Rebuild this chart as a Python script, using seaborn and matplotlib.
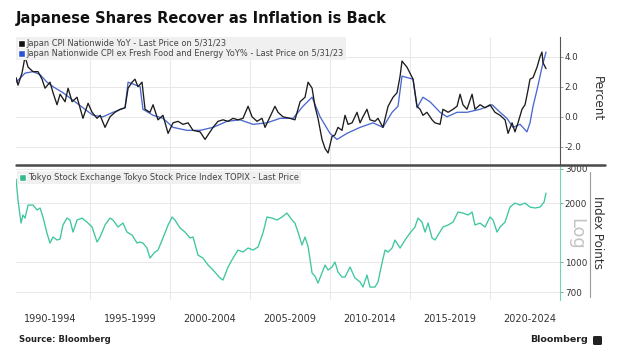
import numpy as np
import pandas as pd
import matplotlib
matplotlib.use("Agg")
import matplotlib.pyplot as plt
import seaborn as sns
from matplotlib.lines import Line2D
from matplotlib.patches import Patch, FancyBboxPatch
import matplotlib.ticker as mticker

# ---------------- data ----------------
cpi_dates = [1990.38, 1990.50, 1990.75, 1990.94, 1991.13, 1991.44, 1991.75, 1992.00, 1992.19, 1992.50,
             1992.69, 1992.94, 1993.13, 1993.44, 1993.63, 1993.88, 1994.19, 1994.56, 1994.88, 1995.13,
             1995.44, 1995.63, 1995.94, 1996.25, 1996.56, 1996.88, 1997.19, 1997.38, 1997.63, 1997.81,
             1998.00, 1998.25, 1998.44, 1998.75, 1998.94, 1999.25, 1999.56, 1999.88, 2000.19, 2000.50,
             2000.81, 2001.13, 2001.44, 2001.88, 2002.19, 2002.38, 2002.69, 2003.00, 2003.31, 2003.63,
             2003.94, 2004.25, 2004.56, 2004.88, 2005.13, 2005.44, 2005.75, 2005.94, 2006.25, 2006.56,
             2006.75, 2007.06, 2007.50, 2007.81, 2008.13, 2008.44, 2008.63, 2008.88, 2009.06, 2009.25,
             2009.50, 2009.69, 2009.88, 2010.13, 2010.31, 2010.50, 2010.75, 2010.94, 2011.13, 2011.38,
             2011.69, 2011.88, 2012.06, 2012.31, 2012.50, 2012.81, 2013.00, 2013.31, 2013.63, 2013.94,
             2014.19, 2014.38, 2014.50, 2014.81, 2015.00, 2015.19, 2015.44, 2015.63, 2015.81, 2016.06,
             2016.38, 2016.56, 2016.88, 2017.06, 2017.38, 2017.69, 2017.94, 2018.13, 2018.31, 2018.56,
             2018.88, 2019.06, 2019.38, 2019.69, 2020.00, 2020.31, 2020.63, 2020.94, 2021.13, 2021.38,
             2021.56, 2021.75, 2022.00, 2022.19, 2022.38, 2022.50, 2022.69, 2022.94, 2023.13, 2023.25,
             2023.31, 2023.50]
cpi_values = [2.6, 2.1, 2.9, 4.0, 3.3, 3.0, 3.0, 2.5, 1.9, 2.3,
              1.6, 0.8, 1.5, 1.0, 1.9, 1.0, 1.3, -0.1, 0.9, 0.3,
              -0.1, 0.1, -0.7, 0.0, 0.3, 0.5, 0.6, 1.9, 2.3, 2.5,
              2.0, 2.3, 0.5, 0.3, 0.8, -0.2, 0.1, -1.1, -0.4, -0.3,
              -0.5, -0.4, -0.9, -1.0, -1.5, -1.2, -0.7, -0.3, -0.2, -0.3,
              -0.1, -0.2, -0.1, 0.7, 0.0, -0.3, -0.1, -0.7, 0.0, 0.7,
              0.3, 0.0, -0.1, -0.2, 1.0, 1.3, 2.3, 1.9, 0.7, -0.1,
              -1.5, -2.1, -2.4, -1.3, -1.2, -0.7, -0.9, 0.1, -0.5, -0.4,
              0.3, -0.4, 0.0, 0.5, -0.2, -0.3, -0.1, -0.7, 0.7, 1.3,
              1.6, 2.7, 3.7, 3.3, 2.9, 2.5, 0.7, 0.5, 0.1, 0.3,
              -0.2, -0.4, -0.5, 0.5, 0.3, 0.5, 0.7, 1.5, 0.8, 0.5,
              1.5, 0.5, 0.8, 0.6, 0.8, 0.3, 0.1, -0.2, -1.1, -0.4,
              -1.0, -0.4, 0.5, 0.8, 1.8, 2.5, 2.6, 3.3, 4.0, 4.3,
              3.6, 3.2]

core_dates = [1990.38, 1990.94, 1991.44, 1991.88, 1992.31, 1992.69, 1993.31, 1993.94, 1994.56, 1995.19,
              1995.81, 1996.44, 1997.19, 1997.38, 1998.13, 1998.31, 1998.94, 1999.56, 2000.19, 2001.06,
              2001.88, 2002.69, 2003.56, 2004.38, 2005.19, 2006.06, 2006.88, 2007.69, 2008.31, 2008.88,
              2009.38, 2010.00, 2010.44, 2011.06, 2011.88, 2012.69, 2013.31, 2013.88, 2014.25, 2014.50,
              2015.19, 2015.44, 2015.81, 2016.25, 2016.88, 2017.31, 2017.94, 2018.56, 2019.38, 2020.13,
              2020.63, 2021.06, 2021.44, 2021.88, 2022.31, 2022.50, 2022.69, 2022.94, 2023.25, 2023.50]
core_values = [2.3, 2.9, 3.0, 2.8, 2.3, 2.0, 1.6, 1.1, 0.6, 0.1,
               0.0, 0.3, 0.6, 2.3, 2.0, 0.5, 0.1, -0.1, -0.7, -0.9,
               -0.9, -0.7, -0.3, -0.2, -0.5, -0.4, -0.1, -0.1, 0.7, 1.3,
               0.0, -1.1, -1.5, -1.1, -0.7, -0.4, -0.7, 0.3, 0.7, 2.7,
               2.5, 0.6, 1.3, 1.0, 0.3, 0.0, 0.3, 0.3, 0.5, 0.8,
               0.3, -0.1, -0.7, -0.5, -1.0, -0.4, 0.7, 1.8, 3.3, 4.3]

topix_dates = [1990.38, 1990.50, 1990.69, 1990.81, 1990.94, 1991.13, 1991.44, 1991.69, 1991.88, 1992.06,
               1992.31, 1992.50, 1992.69, 1992.94, 1993.13, 1993.31, 1993.56, 1993.75, 1993.94, 1994.19,
               1994.50, 1994.81, 1995.13, 1995.44, 1995.63, 1995.94, 1996.25, 1996.44, 1996.75, 1997.06,
               1997.31, 1997.63, 1997.94, 1998.13, 1998.31, 1998.56, 1998.75, 1999.06, 1999.25, 1999.56,
               1999.88, 2000.13, 2000.31, 2000.63, 2000.94, 2001.25, 2001.44, 2001.75, 2002.06, 2002.38,
               2002.69, 2003.13, 2003.31, 2003.63, 2003.94, 2004.25, 2004.56, 2004.88, 2005.19, 2005.50,
               2005.81, 2006.06, 2006.38, 2006.69, 2007.00, 2007.31, 2007.63, 2007.81, 2008.00, 2008.25,
               2008.44, 2008.63, 2008.88, 2009.06, 2009.25, 2009.50, 2009.69, 2009.88, 2010.13, 2010.31,
               2010.50, 2010.75, 2010.94, 2011.25, 2011.56, 2011.88, 2012.06, 2012.31, 2012.50, 2012.81,
               2013.00, 2013.25, 2013.44, 2013.63, 2013.88, 2014.06, 2014.38, 2014.69, 2015.00, 2015.31,
               2015.50, 2015.75, 2015.94, 2016.13, 2016.38, 2016.56, 2016.75, 2017.06, 2017.38, 2017.69,
               2018.00, 2018.31, 2018.63, 2018.88, 2019.06, 2019.38, 2019.69, 2020.00, 2020.19, 2020.44,
               2020.63, 2020.94, 2021.25, 2021.56, 2021.88, 2022.19, 2022.50, 2022.81, 2023.13, 2023.38,
               2023.50]
topix_values = [2650, 2072, 1581, 1738, 1676, 1953, 1953, 1842, 1887, 1697,
                1406, 1250, 1342, 1295, 1310, 1545, 1676, 1638, 1422, 1638,
                1676, 1600, 1509, 1265, 1342, 1545, 1676, 1638, 1509, 1581,
                1422, 1373, 1250, 1265, 1250, 1179, 1048, 1125, 1151, 1326,
                1545, 1697, 1638, 1490, 1422, 1326, 1342, 1085, 1048, 965,
                910, 829, 809, 943, 1048, 1151, 1125, 1179, 1151, 1193,
                1406, 1697, 1676, 1638, 1697, 1778, 1638, 1581, 1422, 1221,
                1342, 1200, 879, 848, 781, 879, 965, 910, 943, 1000,
                889, 838, 838, 943, 829, 791, 745, 858, 745, 745,
                791, 988, 1151, 1125, 1179, 1295, 1179, 1295, 1406, 1509,
                1676, 1600, 1422, 1581, 1326, 1295, 1373, 1509, 1545, 1600,
                1799, 1778, 1738, 1799, 1545, 1581, 1509, 1697, 1638, 1422,
                1509, 1600, 1908, 2000, 1953, 2000, 1908, 1887, 1908, 2024,
                2249]

period_labels = ["1990-1994", "1995-1999", "2000-2004", "2005-2009",
                 "2010-2014", "2015-2019", "2020-2024"]
period_centers = [1992.5, 1997.5, 2002.5, 2007.5, 2012.5, 2017.5, 2022.5]
grid_years = [1995, 2000, 2005, 2010, 2015, 2020]
cpi_ticks = [-2.0, 0.0, 2.0, 4.0]
topix_ticks = [700, 1000, 2000, 3000]

title = "Japanese Shares Recover as Inflation is Back"
leg_cpi = "Japan CPI Nationwide YoY - Last Price on 5/31/23"
leg_core = "Japan Nationwide CPI ex Fresh Food and Energy YoY% - Last Price on 5/31/23"
leg_topix = "Tokyo Stock Exchange Tokyo Stock Price Index TOPIX - Last Price"

# ---------------- styling ----------------
sns.set_style("white")
plt.rcParams['font.family'] = ['DejaVu Sans']
plt.rcParams['axes.unicode_minus'] = False

W, H = 625, 352
fig = plt.figure(figsize=(W / 100, H / 100), dpi=100)
fig.patch.set_facecolor("white")
renderer = fig.canvas.get_renderer()


def fx(px):
    return px / W


def fy(py):
    return 1 - py / H


def fit_size(s, target_px, **kw):
    t = fig.text(0, 0, s, fontsize=10, **kw)
    w = t.get_window_extent(renderer).width
    t.remove()
    return 10 * target_px / w


BLACK = "#1c1c1c"
BLUE = "#4a68cf"
TEAL = "#3ec6a0"
GRID = "#e8e8e8"
TXT = "#333333"

ax1 = fig.add_axes([fx(16), fy(165), fx(560) - fx(16), fy(37) - fy(165)])
ax2 = fig.add_axes([fx(16), fy(300), fx(560) - fx(16), fy(167) - fy(300)], sharex=ax1)

df_cpi = pd.DataFrame({"date": cpi_dates, "value": cpi_values})
df_core = pd.DataFrame({"date": core_dates, "value": core_values})
df_topix = pd.DataFrame({"date": topix_dates, "value": topix_values})

sns.lineplot(data=df_cpi, x="date", y="value", ax=ax1, color=BLACK, lw=0.95, zorder=3)
sns.lineplot(data=df_core, x="date", y="value", ax=ax1, color=BLUE, lw=0.95, zorder=2)
sns.lineplot(data=df_topix, x="date", y="value", ax=ax2, color=TEAL, lw=0.95)

x0 = 1990 + (16 - 10) / 16
x1 = 1990 + (560 - 10) / 16
ax1.set_xlim(x0, x1)
ax1.set_ylim(-3.2, 5.3)
ax2.set_yscale("log")
ax2.set_ylim(640, 3055)

for ax in (ax1, ax2):
    ax.set_xlabel("")
    ax.set_ylabel("")
    ax.set_facecolor("white")
    for s in ("top", "left", "bottom"):
        ax.spines[s].set_visible(False)
    ax.yaxis.tick_right()
    ax.set_xticks(grid_years)
    ax.grid(axis="x", which="major", color=GRID, lw=0.7)
    ax.grid(axis="y", which="major", color=GRID, lw=0.7)

ax2.set_xticks(period_centers, minor=True)
ax2.set_xticklabels(period_labels, minor=True)
ax2.set_xticklabels([""] * len(grid_years))
ax2.tick_params(axis="x", which="both", length=0, pad=10,
                labelsize=fit_size("1990-1994", 53), labelcolor=TXT)
ax1.tick_params(axis="x", which="both", length=0, labelbottom=False)

ax1.set_yticks(cpi_ticks)
ax1.yaxis.set_major_formatter(mticker.FormatStrFormatter("%.1f"))
ax2.set_yticks(topix_ticks)
ax2.yaxis.set_major_formatter(mticker.FixedFormatter([str(t) for t in topix_ticks]))
ax2.yaxis.set_minor_locator(mticker.NullLocator())
tick_fs = fit_size("3000", 22)
ax1.tick_params(axis="y", which="major", direction="out", length=2.5, width=0.6,
                color="#888888", pad=1, labelsize=tick_fs, labelcolor=TXT)
ax2.tick_params(axis="y", which="major", direction="out", length=2.5, width=0.6,
                color="#888888", pad=1, labelsize=tick_fs, labelcolor=TXT)
ax2.tick_params(axis="y", which="minor", length=0)

ax1.spines["right"].set_color("#555555")
ax1.spines["right"].set_linewidth(0.8)
ax2.spines["right"].set_color("#6dd5b8")
ax2.spines["right"].set_linewidth(0.8)

# legends
leg_fs = fit_size(leg_core, 317)
l1 = ax1.legend(handles=[Patch(facecolor="#111111"), Patch(facecolor="#2a55d8")],
                labels=[leg_cpi, leg_core], loc="upper left",
                bbox_to_anchor=(fx(16), fy(37)), bbox_transform=fig.transFigure,
                borderaxespad=0, fontsize=leg_fs, handlelength=0.85, handleheight=0.85,
                handletextpad=0.2, borderpad=0.25, labelspacing=0.15,
                frameon=True, fancybox=False, framealpha=1)
l1.get_frame().set_facecolor("#f0f0f0")
l1.get_frame().set_edgecolor("none")
for t in l1.get_texts():
    t.set_color("#444444")

l2 = ax2.legend(handles=[Patch(facecolor="#34b98e")], labels=[leg_topix], loc="upper left",
                bbox_to_anchor=(fx(17), fy(171)), bbox_transform=fig.transFigure,
                borderaxespad=0, fontsize=fit_size(leg_topix, 268), handlelength=0.85,
                handleheight=0.85, handletextpad=0.2, borderpad=0.25,
                frameon=True, fancybox=False, framealpha=1)
l2.get_frame().set_facecolor("#f0f0f0")
l2.get_frame().set_edgecolor("none")
for t in l2.get_texts():
    t.set_color("#444444")

# separators and extra rules
fig.add_artist(Line2D([fx(16), fx(605)], [fy(165), fy(165)], color="#4a4a4a", lw=1.8))
fig.add_artist(Line2D([fx(590), fx(590)], [fy(172), fy(297)], color="#9a9a9a", lw=0.8))

# axis titles
side_fs = fit_size("Index Points", 73)
fig.text(fx(597), fy(99), "Percent", rotation=270, ha="center", va="center",
         fontsize=side_fs, color=TXT)
fig.text(fx(597), fy(233), "Index Points", rotation=270, ha="center", va="center",
         fontsize=side_fs, color=TXT)
fig.text(fx(576), fy(234), "Log", rotation=270, ha="center", va="center",
         fontsize=fit_size("Log", 32), color="#c4c4c4")

# title & footer
fig.text(fx(16), fy(19), title, ha="left", va="center", weight="bold",
         fontsize=fit_size(title, 370, weight="bold"), color="#111111")
fig.text(fx(19), fy(339), "Source: Bloomberg", ha="left", va="center", weight="bold",
         fontsize=fit_size("Source: Bloomberg", 91, weight="bold"), color="#222222")
fig.text(fx(530), fy(340), "Bloomberg", ha="left", va="center", weight="bold",
         fontsize=fit_size("Bloomberg", 58, weight="bold"), color="#222222")
fig.add_artist(FancyBboxPatch((fx(593), fy(345)), 9 / W, 9 / H,
                              boxstyle="round,pad=0,rounding_size=0.003",
                              transform=fig.transFigure, facecolor="#222222",
                              edgecolor="none"))

fig.savefig("out.png", dpi=100, facecolor="white")
